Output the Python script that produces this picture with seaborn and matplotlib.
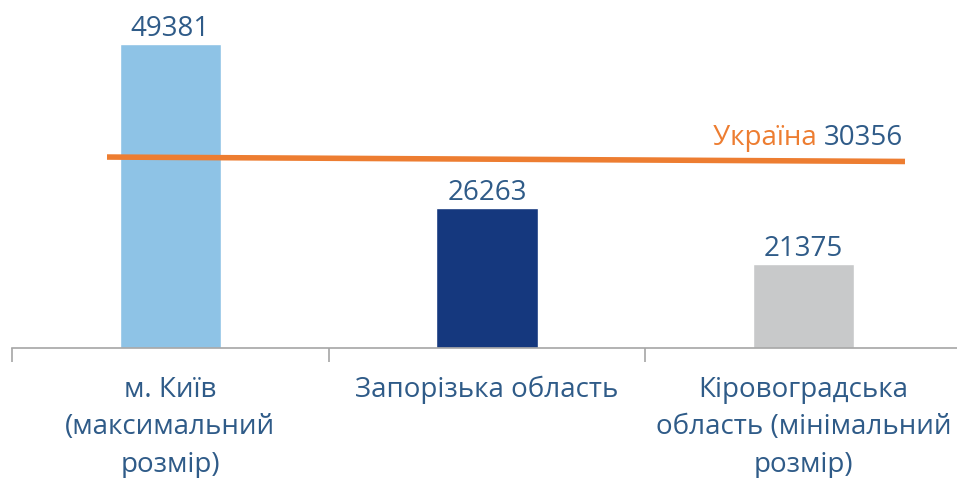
import matplotlib
matplotlib.use("Agg")
import matplotlib.pyplot as plt
import seaborn as sns
import pandas as pd

categories = ["м. Київ\n(максимальний\nрозмір)", "Запорізька область", "Кіровоградська\nобласть (мінімальний\nрозмір)"]
# value labels printed on the chart
value_labels = [49381, 26263, 21375]
# bar heights as drawn in the picture (the source is not to scale)
bar_heights = [49381, 22740, 13650]
bar_colors = ["#8EC3E6", "#15387E", "#C8C9CA"]
ukraine_label = "Україна"
ukraine_value = 30356
# level of the Ukraine line as drawn, at its left and right ends
ukraine_line_levels = [31020, 30300]

sns.set_theme(style="white")
plt.rcParams['font.family'] = ['Open Sans', 'DejaVu Sans']

txt_color = "#2F5B88"
orange = "#ED7D31"
fs = 20

df = pd.DataFrame({"cat": categories, "val": bar_heights})

fig = plt.figure(figsize=(9.57, 4.78), dpi=100)
ax_w = 950
ax = fig.add_axes([12/957, 130/478, ax_w/957, 348/478])
sns.barplot(data=df, x="cat", y="val", hue="cat", palette=bar_colors, width=0.32,
            legend=False, ax=ax, saturation=1)

unit = 318.0
ax.set_xlim(-0.5, -0.5 + ax_w/unit)
ax.set_ylim(0, 56530)
for s in ["top", "right", "left"]:
    ax.spines[s].set_visible(False)
ax.spines["bottom"].set_color("#A6A6A6")
ax.spines["bottom"].set_linewidth(1.2)
ax.set_yticks([])
ax.set_xlabel("")
ax.set_ylabel("")
ax.set_xticks(range(len(categories)))
ax.set_xticklabels(categories, fontsize=fs, color=txt_color, linespacing=1.45)
ax.tick_params(axis="x", which="major", length=0, pad=20)
ax.set_xticks([i - 0.5 for i in range(len(categories) + 1)], minor=True)
ax.tick_params(axis="x", which="minor", bottom=True, length=10, width=1.2,
               color="#A6A6A6", direction="out")

for i, (h, lab) in enumerate(zip(bar_heights, value_labels)):
    ax.text(i, h + 200, str(lab), ha="center", va="bottom", fontsize=fs, color=txt_color)

x_line = [-0.20, 2.32]
sns.lineplot(x=x_line, y=ukraine_line_levels, color=orange, lw=4, ax=ax)
ax.lines[-1].set_solid_capstyle("butt")

t2 = ax.text(2.313, ukraine_line_levels[1] + 1600, str(ukraine_value), ha="right", va="bottom",
             fontsize=fs, color=txt_color)
ax.annotate(ukraine_label + " ", xy=(0, 0), xycoords=t2, ha="right", va="bottom",
            fontsize=fs, color=orange)

fig.savefig("out.png", dpi=100)
